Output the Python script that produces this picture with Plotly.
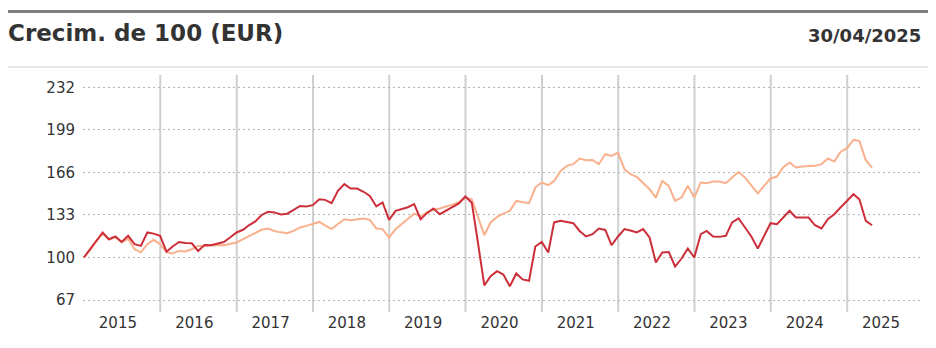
import pandas as pd
import plotly.graph_objects as go

# Month-end dates Dec 2014 .. Apr 2025
start_date = "2014-12-31"
n_points = 125

fund_values = [
    100, 106.5, 113, 119.4, 114.2, 116.3, 112.1, 116.8, 110.3, 109,
    119.4, 118.5, 116.8, 104.5, 108.5, 112, 111.3, 111, 105, 109.6,
    109.5, 110.5, 112, 115.5, 119.4, 121.5, 125, 128, 133, 135.4,
    135, 133.3, 134, 137, 140, 139.6, 140.6, 145.2, 144.7, 142.1,
    151.7, 156.9, 153.5, 153.5, 151, 147.8, 139.6, 142.7, 129.2, 136.2,
    137.5, 139, 141.4, 129.7, 134.4, 138, 133.6, 136.2, 139, 142,
    147.3, 142.5, 112, 78.3, 85.5, 89.4, 86.8, 77.7, 87.6, 83,
    81.9, 108.5, 112.1, 103.9, 127.2, 128.4, 127.5, 126.6, 120.6, 116.3,
    118.1, 122.5, 121.4, 109.5, 116.3, 122, 121, 119.5, 122, 115.5,
    96.1, 103.9, 104.3, 93, 99.2, 107, 100, 118.1, 120.6, 116.3,
    116, 116.8, 127.2, 130.3, 123.3, 116.3, 107, 116.8, 126.6, 125.8,
    131, 136.2, 131, 131, 131, 125, 122.5, 129.7, 133.6, 138.8,
    143.9, 149.1, 145.2, 128.4, 125,
]

benchmark_values = [
    100, 106, 112.5, 118.5, 113.8, 115.8, 111.8, 114.5, 106.4, 104,
    110.3, 113.7, 110.3, 104, 103.1, 105.1, 104.7, 106.4, 109, 109.3,
    109.5, 109.5, 109.5, 110.5, 111.6, 114.2, 116.5, 119.4, 121.5, 122.5,
    120.6, 119.5, 118.9, 120.6, 123.3, 124.5, 125.8, 127.6, 125, 122,
    126, 129.7, 128.9, 129.5, 130.3, 129.2, 122.5, 122, 115.5, 122,
    126, 130, 134, 132, 135, 137, 138, 139.6, 141, 143,
    146.5, 145.2, 132.3, 117.3, 127.2, 131.5, 134, 136.2, 143.9, 143,
    142.1, 154.3, 158.2, 156.1, 159.4, 167.2, 171.1, 172.4, 176.8, 175.5,
    175.7, 172.4, 180.1, 178.8, 181.4, 168.4, 164.6, 162.5, 158, 153,
    146.5, 159.4, 155.6, 143.9, 146.5, 155.6, 146.5, 158.2, 157.6, 158.9,
    158.9, 157.6, 162, 166.3, 162, 155.6, 149.7, 155.6, 161.3, 162.8,
    169.8, 173.7, 169.8, 170.6, 171, 171.1, 172.4, 176.8, 174.5, 181.9,
    184.8, 191.2, 190.5, 175.5, 169.8,
]

y_ticks = [67, 100, 133, 166, 199, 232]
years = list(range(2015, 2026))
year_labels = [str(y) for y in years]

title_text = "Crecim. de 100 (EUR)"
date_text = "30/04/2025"

dates = pd.date_range(start=start_date, periods=n_points, freq="ME")

fig = go.Figure()
fig.add_trace(go.Scatter(x=dates, y=benchmark_values, mode="lines",
                         line=dict(color="#f9b08c", width=2), hoverinfo="skip"))
fig.add_trace(go.Scatter(x=dates, y=fund_values, mode="lines",
                         line=dict(color="#cc2f3a", width=2), hoverinfo="skip"))

W, H = 936, 348
L, R, T, B = 83, 14, 75, 36
pw, ph = W - L - R, H - T - B

def px_x(p):
    return (p - L) / pw

def px_y(p):
    return (H - B - p) / ph

shapes = []
# year separators
for y in years[1:]:
    shapes.append(dict(type="line", xref="x", yref="paper",
                       x0=f"{y}-01-01", x1=f"{y}-01-01", y0=0, y1=1,
                       line=dict(color="#cfcfcf", width=2), layer="below"))
# top dark bar
shapes.append(dict(type="line", xref="paper", yref="paper",
                   x0=px_x(8), x1=px_x(928), y0=px_y(11.5), y1=px_y(11.5),
                   line=dict(color="#808080", width=3)))
# thin separator
shapes.append(dict(type="line", xref="paper", yref="paper",
                   x0=px_x(8), x1=px_x(928), y0=px_y(67), y1=px_y(67),
                   line=dict(color="#d0d0d0", width=1)))

annotations = [
    dict(text=f"<b>{title_text}</b>", xref="paper", yref="paper",
         x=px_x(6), y=px_y(33), xanchor="left", yanchor="middle",
         showarrow=False, font=dict(family="DejaVu Sans", size=23, color="#333333")),
    dict(text=f"<b>{date_text}</b>", xref="paper", yref="paper",
         x=px_x(923), y=px_y(35), xanchor="right", yanchor="middle",
         showarrow=False, font=dict(family="DejaVu Sans", size=18, color="#333333")),
]

fig.update_layout(
    width=W, height=H,
    margin=dict(l=L, r=R, t=T, b=B),
    paper_bgcolor="white", plot_bgcolor="white",
    showlegend=False,
    shapes=shapes,
    annotations=annotations,
    font=dict(family="DejaVu Sans", size=15, color="#333333"),
)
fig.update_xaxes(
    range=["2014-12-27", "2025-12-25"],
    tickvals=[f"{y}-06-12" for y in years],
    ticktext=year_labels,
    showgrid=False, zeroline=False, showline=False, ticks="",
    tickfont=dict(family="DejaVu Sans", size=15, color="#333333"),
)
fig.update_yaxes(
    range=[57.7, 241.6],
    tickvals=y_ticks,
    showgrid=True, gridcolor="#b5b5b5", gridwidth=1, griddash="2px,3px",
    zeroline=False, showline=False, ticks="", ticklabelstandoff=7,
    tickfont=dict(family="DejaVu Sans", size=15, color="#333333"),
)

fig.write_html("out.html")
